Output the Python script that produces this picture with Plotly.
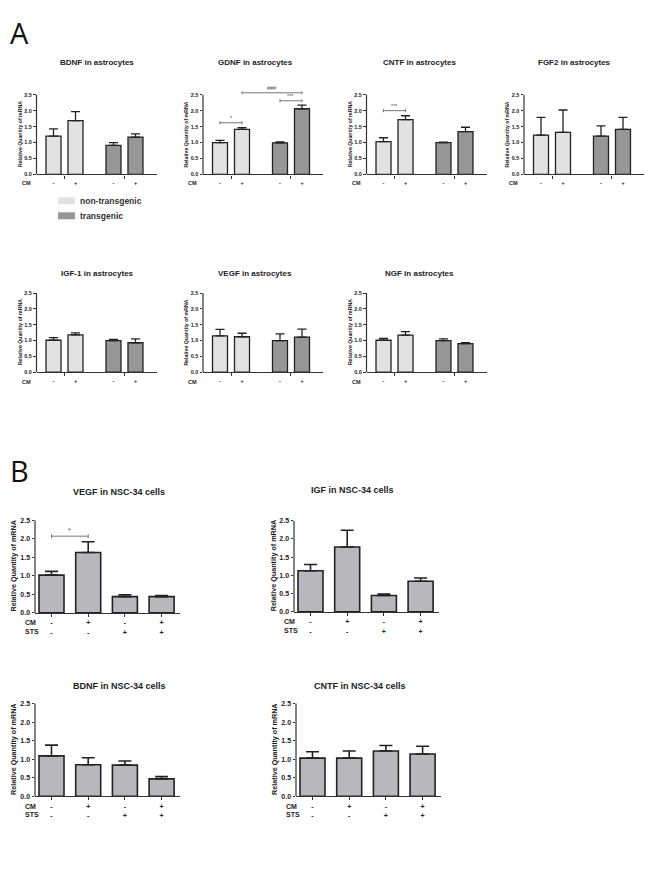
import plotly.graph_objects as go

# ---------------- data ----------------
# Panel A: astrocytes (order: non-tg CM-, non-tg CM+, tg CM-, tg CM+)
bdnf_astro_mean = [1.20, 1.69, 0.91, 1.17]
bdnf_astro_sem = [0.23, 0.28, 0.09, 0.10]
gdnf_astro_mean = [1.00, 1.41, 0.99, 2.06]
gdnf_astro_sem = [0.07, 0.06, 0.03, 0.11]
cntf_astro_mean = [1.03, 1.72, 1.00, 1.34]
cntf_astro_sem = [0.12, 0.12, 0.01, 0.14]
fgf2_astro_mean = [1.23, 1.32, 1.20, 1.41]
fgf2_astro_sem = [0.56, 0.70, 0.32, 0.38]
igf1_astro_mean = [1.01, 1.18, 1.00, 0.93]
igf1_astro_sem = [0.08, 0.06, 0.04, 0.12]
vegf_astro_mean = [1.15, 1.12, 1.00, 1.11]
vegf_astro_sem = [0.20, 0.11, 0.21, 0.25]
ngf_astro_mean = [1.01, 1.17, 1.00, 0.90]
ngf_astro_sem = [0.06, 0.11, 0.05, 0.03]
cm_astro = ["-", "+", "-", "+"]

# Panel B: NSC-34 cells
vegf_nsc_mean = [1.02, 1.63, 0.44, 0.44]
vegf_nsc_sem = [0.10, 0.29, 0.05, 0.03]
igf_nsc_mean = [1.13, 1.78, 0.45, 0.84]
igf_nsc_sem = [0.17, 0.46, 0.04, 0.09]
bdnf_nsc_mean = [1.09, 0.85, 0.84, 0.47]
bdnf_nsc_sem = [0.29, 0.19, 0.11, 0.06]
cntf_nsc_mean = [1.03, 1.03, 1.22, 1.14]
cntf_nsc_sem = [0.17, 0.19, 0.15, 0.21]
cm_nsc = ["-", "+", "-", "+"]
sts_nsc = ["-", "-", "+", "+"]

# significance brackets: (bar from, bar to, height, label)
gdnf_sig = [(0, 1, 1.62, "*"), (1, 3, 2.56, "###"), (2, 3, 2.31, "***")]
cntf_sig = [(0, 1, 2.00, "***")]
vegf_nsc_sig = [(0, 1, 2.07, "*")]

y_ticks = [0.0, 0.5, 1.0, 1.5, 2.0, 2.5]
y_title = "Relative Quantity of mRNA"

# ---------------- layout helpers ----------------
W, H, OFF = 637, 868, 8


def fx(px):
    return min(1.0, max(0.0, (px - OFF) / W))


def fy(py):
    return min(1.0, max(0.0, 1 - (py - OFF) / H))


YTOP = 2.7
FONT = "Liberation Sans, Arial, sans-serif"
LINE = "#333333"
LIGHT = "#e2e2e2"
DARK = "#979797"
NSC = "#b8b8bc"

fig = go.Figure()
layout = dict(width=W, height=H, autosize=False,
              margin=dict(l=0, r=0, t=0, b=0),
              paper_bgcolor="white", plot_bgcolor="white", showlegend=False)
shapes = []
annotations = []


def add_panel(n, title, means, sems, label_rows, row_names, xpos, xrange,
              left_px, right_px, py0, py25, barw, colors, fs_tick, fs_title,
              fs_axt, title_xy, axt_x, cap, rowlab_x, rowlab_y, row_dy,
              group_ticks=None, sig=None, tickcolor=LINE, barline=1.3):
    xr, yr = f"x{n}", f"y{n}"
    ppu = (py0 - py25) / 2.5
    top_px = py0 - YTOP * ppu
    xa = dict(domain=[fx(left_px), fx(right_px)], anchor=yr, range=xrange,
              showline=True, linecolor=LINE, linewidth=1.2, showgrid=False,
              zeroline=False, tickmode="array", tickvals=xpos,
              ticktext=["<br>".join(c) for c in zip(*label_rows)],
              ticks="outside", ticklen=3, tickwidth=1, tickcolor=tickcolor,
              tickfont=dict(family=FONT, size=fs_tick, color="#222", weight="bold"),
              fixedrange=True)
    if group_ticks is not None:
        xa["minor"] = dict(tickmode="array", tickvals=group_ticks, ticks="outside",
                           ticklen=3, tickwidth=1, tickcolor=LINE, showgrid=False)
    ya = dict(domain=[fy(py0), fy(top_px)], anchor=xr, range=[0, YTOP],
              showline=False, showgrid=False, zeroline=False, tickmode="array",
              tickvals=y_ticks, ticktext=[f"{v:.1f}" for v in y_ticks],
              ticks="outside", ticklen=2.5, tickwidth=1, tickcolor=LINE,
              tickfont=dict(family=FONT, size=fs_tick, color="#222", weight="bold"),
              fixedrange=True)
    layout["xaxis" if n == 1 else f"xaxis{n}"] = xa
    layout["yaxis" if n == 1 else f"yaxis{n}"] = ya
    xref = "x" if n == 1 else xr
    yref = "y" if n == 1 else yr
    shapes.append(dict(type="line", xref=f"{xref} domain", yref=yref, x0=0, x1=0,
                       y0=0, y1=2.5, line=dict(color=LINE, width=1.2)))
    fig.add_trace(go.Bar(x=xpos, y=means, width=barw,
                         marker=dict(color=colors, line=dict(color="#222", width=barline)),
                         error_y=dict(type="data", symmetric=False, array=sems,
                                      arrayminus=[0] * len(sems), color="#222",
                                      thickness=barline, width=cap),
                         xaxis=xref, yaxis=yref, hoverinfo="skip"))
    annotations.append(dict(xref="paper", yref="paper", x=fx(title_xy[0]), y=fy(title_xy[1]),
                            text=f"<b>{title}</b>", showarrow=False, xanchor="center",
                            yanchor="middle", font=dict(family=FONT, size=fs_title, color="#222")))
    annotations.append(dict(xref="paper", yref="paper", x=fx(axt_x), y=fy((py0 + py25) / 2),
                            text=f"<b>{y_title}</b>", textangle=-90, showarrow=False,
                            xanchor="center", yanchor="middle",
                            font=dict(family=FONT, size=fs_axt, color="#222")))
    for i, name in enumerate(row_names):
        annotations.append(dict(xref="paper", yref="paper", x=fx(rowlab_x),
                                y=fy(rowlab_y + i * row_dy), text=f"<b>{name}</b>",
                                showarrow=False, xanchor="left", yanchor="middle",
                                font=dict(family=FONT, size=fs_tick, color="#222")))
    if sig:
        for a, b, h, lab in sig:
            x0, x1 = xpos[a], xpos[b]
            d = 0.05
            shapes.append(dict(type="path", xref=xref, yref=yref,
                               path=f"M {x0},{h - d} L {x0},{h + d} M {x0},{h} L {x1},{h} M {x1},{h - d} L {x1},{h + d}",
                               line=dict(color="#666", width=0.9)))
            annotations.append(dict(xref=xref, yref=yref, x=(x0 + x1) / 2, y=h,
                                    text=lab, showarrow=False, yanchor="bottom", yshift=0,
                                    font=dict(family=FONT, size=fs_tick, color="#555")))


# ---------------- Panel A ----------------
posA = [0, 1, 2.727, 3.727]
grpA = [0.5, 3.227]
ppxA = 22.0
colA = [LIGHT, LIGHT, DARK, DARK]
rangeA = [-17 / ppxA, (120 - 17) / ppxA]
colsA = [53.5, 220, 383.5, 541]
titleXA = [97, 255, 419, 574]

panelsA = [
    ("BDNF in astrocytes", bdnf_astro_mean, bdnf_astro_sem, None, 0, 0),
    ("GDNF in astrocytes", gdnf_astro_mean, gdnf_astro_sem, gdnf_sig, 0, 1),
    ("CNTF in astrocytes", cntf_astro_mean, cntf_astro_sem, cntf_sig, 0, 2),
    ("FGF2 in astrocytes", fgf2_astro_mean, fgf2_astro_sem, None, 0, 3),
    ("IGF-1 in astrocytes", igf1_astro_mean, igf1_astro_sem, None, 1, 0),
    ("VEGF in astrocytes", vegf_astro_mean, vegf_astro_sem, None, 1, 1),
    ("NGF in astrocytes", ngf_astro_mean, ngf_astro_sem, None, 1, 2),
]
rowsA = [dict(py0=175, py25=95, ty=63, lab=184), dict(py0=373.5, py25=294, ty=274, lab=383)]

n = 1
for title, m, s, sig, r, c in panelsA:
    left = colsA[c] - 17
    rw = rowsA[r]
    add_panel(n, title, m, s, [cm_astro], ["CM"], posA, rangeA, left, left + 120,
              rw["py0"], rw["py25"], 15 / ppxA, colA, 5.5, 8, 5.2,
              (titleXA[c], rw["ty"]), left - 17, 4.5, left - 17, rw["lab"], 0,
              group_ticks=grpA, sig=sig, tickcolor="rgba(0,0,0,0)")
    n += 1

# legend for panel A
for i, (col, lab) in enumerate([(LIGHT, "non-transgenic"), (DARK, "transgenic")]):
    yc = 201.5 + i * 15
    shapes.append(dict(type="rect", xref="paper", yref="paper", x0=fx(58), x1=fx(75),
                       y0=fy(yc + 3.5), y1=fy(yc - 3.5), fillcolor=col, line=dict(width=0)))
    annotations.append(dict(xref="paper", yref="paper", x=fx(78), y=fy(yc), text=f"<b>{lab}</b>",
                            showarrow=False, xanchor="left", yanchor="middle",
                            font=dict(family=FONT, size=8.5, color="#333")))

# ---------------- Panel B ----------------
posB = [0, 1, 2, 3]
ppxB = 36.7
rangeB = [-16.5 / ppxB, (145 - 16.5) / ppxB]
panelsB = [
    ("VEGF in NSC-34 cells", vegf_nsc_mean, vegf_nsc_sem, vegf_nsc_sig, 35, 615, 522, (119, 494)),
    ("IGF in NSC-34 cells", igf_nsc_mean, igf_nsc_sem, None, 294, 614, 522.5, (352, 492)),
    ("BDNF in NSC-34 cells", bdnf_nsc_mean, bdnf_nsc_sem, None, 35, 799, 706, (119, 688)),
    ("CNTF in NSC-34 cells", cntf_nsc_mean, cntf_nsc_sem, None, 296, 799, 706, (360, 688)),
]
for title, m, s, sig, left, py0, py25, txy in panelsB:
    add_panel(n, title, m, s, [cm_nsc, sts_nsc], ["CM", "STS"], posB, rangeB, left, left + 145,
              py0, py25, 25 / ppxB, NSC, 7, 9, 7.2, txy, left - 21, 6.5, left - 12,
              py0 + 10, 8.5, sig=sig, barline=1.6)
    n += 1

# panel letters
for letter, (lx, ly) in [("A", (20, 33)), ("B", (20, 472))]:
    annotations.append(dict(xref="paper", yref="paper", x=fx(lx), y=fy(ly), text=letter,
                            showarrow=False, xanchor="center", yanchor="middle",
                            font=dict(family="Open Sans, Liberation Sans, sans-serif", size=29, color="#111")))

layout["shapes"] = shapes
layout["annotations"] = annotations
fig.update_layout(**layout)
fig.write_html("out.html")
